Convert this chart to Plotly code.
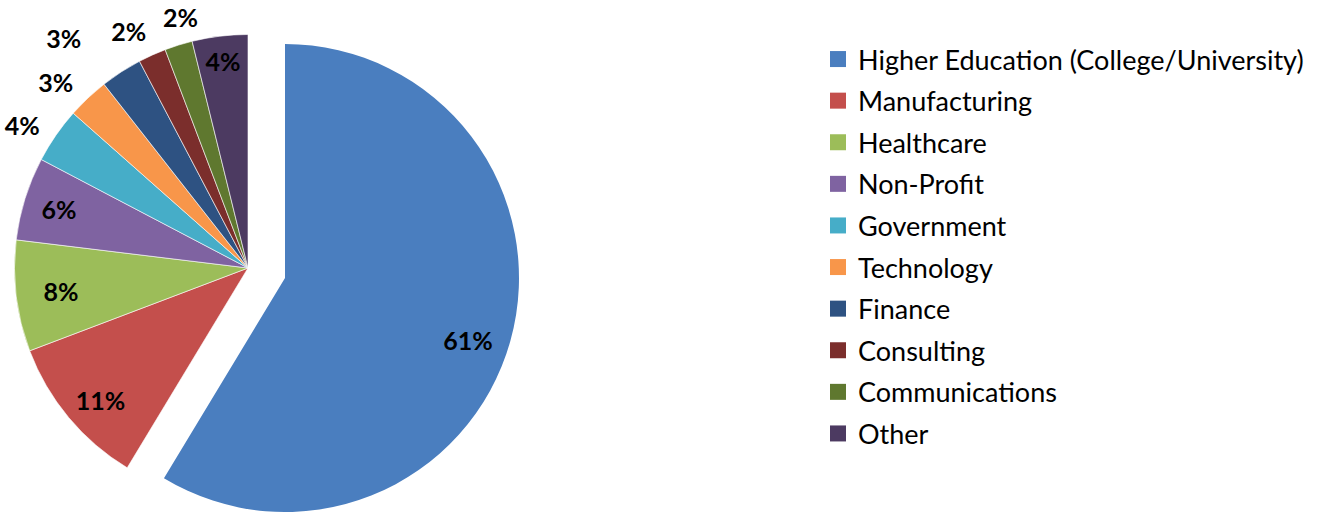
import plotly.graph_objects as go

# slice data (labels are the printed percentages)
sectors = ["Higher Education (College/University)", "Manufacturing", "Healthcare",
           "Non-Profit", "Government", "Technology", "Finance", "Consulting",
           "Communications", "Other"]
shares = [61, 11, 8, 6, 4, 3, 3, 2, 2, 4]
colors = ["#4A7EBF", "#C44F4C", "#9CBD59", "#7F63A1", "#46ADC8",
          "#F8964A", "#2E5282", "#7B2E2C", "#5F782F", "#4C3A61"]

W, H = 1317, 512
FONT = "Lato"
CLEAR = "rgba(0,0,0,0)"
N = len(shares)
pct = [f"{v}%" for v in shares]
label_font = dict(family=FONT, size=25, color="black", weight="bold")

# labels drawn by the main pie itself
inside_idx = [2, 3, 9]
# other labels ride on invisible pies (same angles) whose centre/radius
# nudges them to where the reference puts them: (slices, textposition, cx, cy, r)
label_rings = [
    ([4, 5], "outside", 248, 268, 244),
    ([6], "outside", 192, 208, 190),
    ([7], "outside", 254, 266, 244),
    ([8], "outside", 278, 264, 244),
    ([1], "inside", 225.6, 295.4, 216),
    ([0], "inside", 372.7, 313.4, 198),
]


def dom(cx, cy, r):
    # pixel centre/radius -> paper domain (margins are zero)
    return dict(x=[(cx - r) / W, (cx + r) / W],
                y=[max(0, (H - cy - r) / H), min(1, (H - cy + r) / H)])


def pie(fill, text, pos, domain, **kw):
    return go.Pie(labels=sectors, values=shares, sort=False, direction="clockwise",
                  rotation=0, marker=dict(colors=fill, line=kw.pop("line", dict(width=0))),
                  text=text, textinfo="text", textposition=pos,
                  insidetextorientation="horizontal", textfont=label_font,
                  domain=domain, showlegend=False, **kw)


fig = go.Figure()

# main pie, big slice left out (drawn exploded below)
fig.add_trace(pie([CLEAR] + colors[1:],
                  [pct[i] if i in inside_idx else "" for i in range(N)],
                  "inside", dom(248, 268, 233.5),
                  line=dict(color="white", width=0.6), hoverinfo="label+percent"))

# exploded slice
fig.add_trace(pie([colors[0]] + [CLEAR] * (N - 1), [""] * N, "inside",
                  dom(285, 278, 234), hoverinfo="skip"))

# the remaining data labels
for grp, pos, cx, cy, r in label_rings:
    fig.add_trace(pie([CLEAR] * N, [pct[i] if i in grp else "" for i in range(N)],
                      pos, dom(cx, cy, r), hoverinfo="skip"))

# legend entries
for name, c in zip(sectors, colors):
    fig.add_trace(go.Scatter(
        x=[None], y=[None], mode="markers", name=name, legendgroup=name,
        marker=dict(symbol="square", size=16, color=c), hoverinfo="skip"))

fig.update_layout(
    width=W, height=H, margin=dict(l=0, r=0, t=0, b=0, autoexpand=False),
    paper_bgcolor="white", plot_bgcolor="white",
    xaxis=dict(visible=False), yaxis=dict(visible=False),
    font=dict(family=FONT, color="black"),
    legend=dict(x=818 / W, y=1 - 35 / H, xanchor="left", yanchor="top",
                font=dict(family=FONT, size=27, color="black"),
                tracegroupgap=3.5, bgcolor=CLEAR),
)

# drop the browser's default 8px body margin so the figure sits at 0,0
fig.write_html("out.html", config={"displayModeBar": False},
               post_script="document.body.style.margin='0';")
